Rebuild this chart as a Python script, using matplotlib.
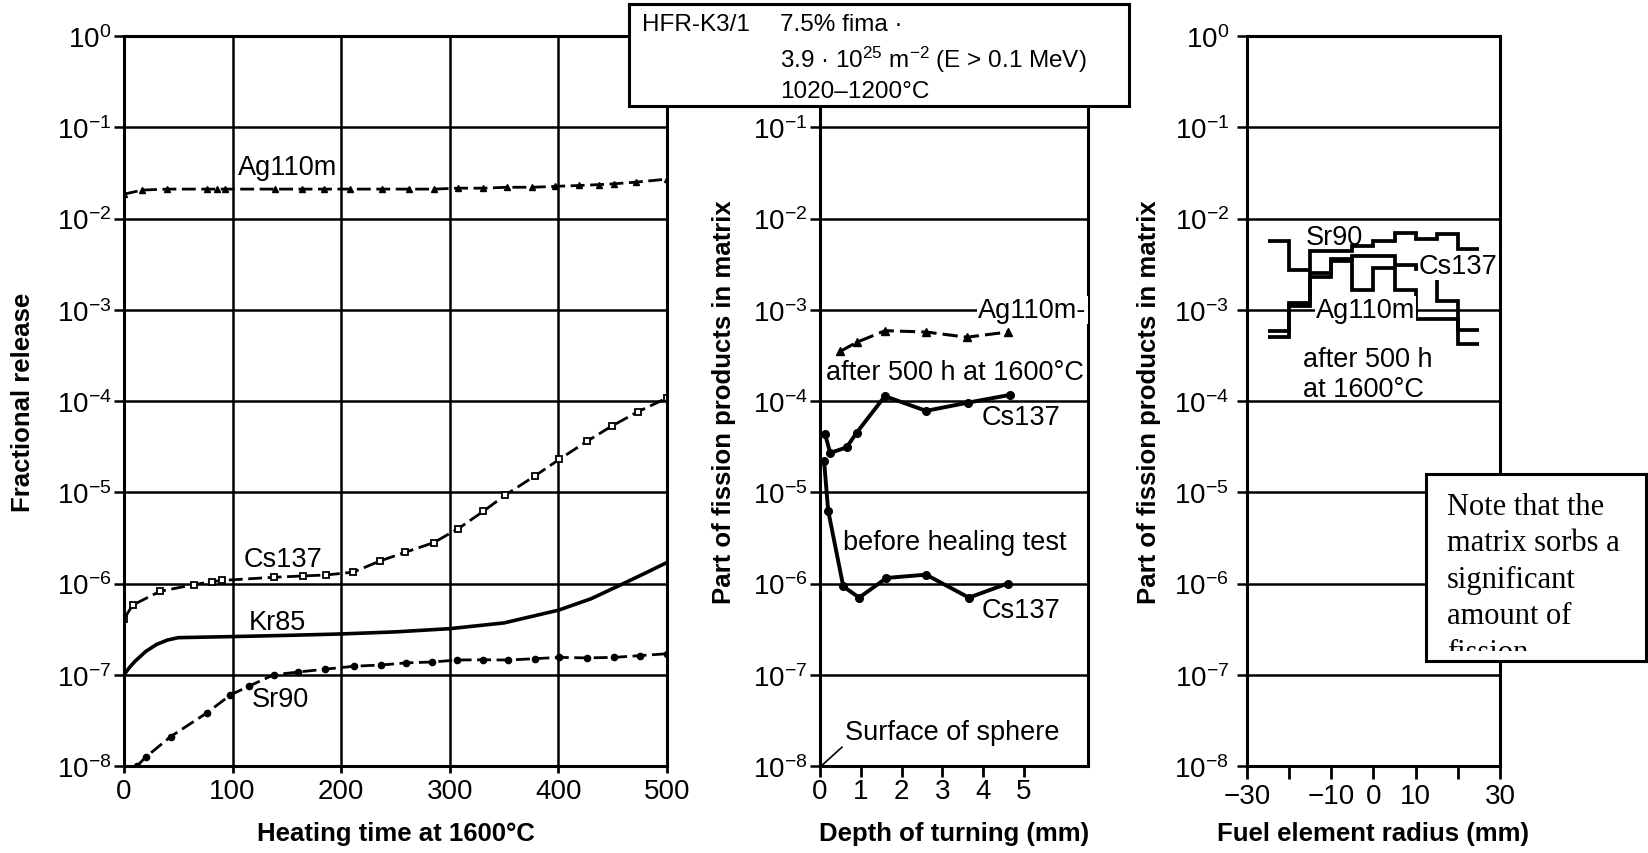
import matplotlib
matplotlib.use("Agg")
import matplotlib.pyplot as plt
from matplotlib.ticker import NullLocator
from matplotlib.transforms import Bbox, TransformedBbox

plt.rcParams["font.family"] = ["Liberation Sans", "DejaVu Sans"]
plt.rcParams["mathtext.fontset"] = "custom"
plt.rcParams["mathtext.rm"] = "Liberation Sans"
plt.rcParams["mathtext.it"] = "Liberation Sans:italic"
plt.rcParams["mathtext.bf"] = "Liberation Sans:bold"
plt.rcParams["mathtext.default"] = "regular"

W, H = 1649, 854
Y_TOP, Y_BOT = 37, 767          # pixel rows of 10^0 and 10^-8

decade_ticks = [1e-8, 1e-7, 1e-6, 1e-5, 1e-4, 1e-3, 1e-2, 1e-1, 1e0]

# ---- left panel: fractional release vs heating time at 1600 C ----------
ag_t = [0, 17, 40, 76, 86, 93, 139, 164, 184, 208, 238, 262, 285, 308, 331,
        353, 376, 397, 419, 437, 451, 471, 500]
ag_rel = [1.85e-2, 2.05e-2, 2.1e-2, 2.1e-2, 2.1e-2, 2.1e-2, 2.1e-2, 2.1e-2,
          2.1e-2, 2.1e-2, 2.1e-2, 2.1e-2, 2.1e-2, 2.15e-2, 2.15e-2, 2.2e-2,
          2.2e-2, 2.25e-2, 2.3e-2, 2.35e-2, 2.4e-2, 2.5e-2, 2.7e-2]
cs_t = [0, 8, 33, 64, 81, 90, 138, 165, 186, 211, 236, 259, 285, 308, 331,
        351, 378, 401, 426, 449, 473, 500]
cs_rel = [4.1e-7, 5.8e-7, 8.2e-7, 9.7e-7, 1.05e-6, 1.08e-6, 1.17e-6, 1.21e-6,
          1.24e-6, 1.33e-6, 1.77e-6, 2.2e-6, 2.8e-6, 4.0e-6, 6.2e-6, 9.3e-6,
          1.5e-5, 2.3e-5, 3.6e-5, 5.3e-5, 7.6e-5, 1.08e-4]
kr_t = [0, 5, 10, 20, 30, 40, 50, 100, 150, 200, 250, 300, 350, 400, 430,
        460, 480, 500]
kr_rel = [1.0e-7, 1.2e-7, 1.4e-7, 1.8e-7, 2.15e-7, 2.4e-7, 2.55e-7, 2.62e-7,
          2.7e-7, 2.8e-7, 2.95e-7, 3.2e-7, 3.7e-7, 5.1e-7, 6.8e-7, 1.0e-6,
          1.3e-6, 1.7e-6]
sr_t = [12, 20, 43, 76, 98, 115, 138, 160, 185, 212, 237, 260, 284, 307, 331,
        354, 378, 401, 426, 451, 475, 500]
sr_rel = [1.0e-8, 1.25e-8, 2.1e-8, 3.8e-8, 6.0e-8, 7.5e-8, 1.0e-7, 1.07e-7,
          1.15e-7, 1.24e-7, 1.28e-7, 1.35e-7, 1.38e-7, 1.45e-7, 1.46e-7,
          1.45e-7, 1.5e-7, 1.55e-7, 1.53e-7, 1.55e-7, 1.62e-7, 1.7e-7]
time_ticks = [0, 100, 200, 300, 400, 500]

# ---- middle panel: profile vs depth of turning -------------------------
ag_mid_d = [0.5, 0.9, 1.6, 2.6, 3.6, 4.6]
ag_mid = [3.5e-4, 4.4e-4, 5.9e-4, 5.7e-4, 5.0e-4, 5.7e-4]
cs_after_d = [0.12, 0.25, 0.65, 0.9, 1.59, 2.6, 3.63, 4.67]
cs_after = [4.4e-5, 2.7e-5, 3.1e-5, 4.5e-5, 1.13e-4, 7.8e-5, 9.6e-5, 1.17e-4]
cs_before_d = [0.1, 0.2, 0.57, 0.96, 1.63, 2.6, 3.65, 4.6]
cs_before = [2.2e-5, 6.3e-6, 9.3e-7, 7.0e-7, 1.15e-6, 1.25e-6, 7.0e-7, 1.0e-6]
depth_ticks = [0, 1, 2, 3, 4, 5]

# ---- right panel: radial profile after 500 h (5 mm bins) ---------------
r_edges = [-25, -20, -15, -10, -5, 0, 5, 10, 15, 20, 25]
sr_lvl = [5.6e-3, 2.75e-3, 4.4e-3, 4.4e-3, 5.0e-3, 5.6e-3, 6.9e-3, 5.9e-3,
          6.7e-3, 4.6e-3]
cs_lvl = [5.8e-4, 1.2e-3, 2.5e-3, 3.6e-3, 3.9e-3, 3.9e-3, 3.1e-3, 2.8e-3,
          1.25e-3, 6.0e-4]
ag_lvl = [5.0e-4, 1.1e-3, 2.3e-3, 3.4e-3, 1.65e-3, 2.9e-3, 1.65e-3, 8.0e-4,
          8.0e-4, 4.2e-4]
r_ticks = [-30, -20, -10, 0, 10, 20, 30]
r_tick_labels = ["\u221230", "", "\u221210", "0", "10", "", "30"]

note_lines = ["Note that the", "matrix sorbs a", "significant", "amount of",
              "fission"]

fig = plt.figure(figsize=(W / 100, H / 100), dpi=100)


def px_axes(x0, x1, y0, y1):
    return fig.add_axes([x0 / W, 1 - y1 / H, (x1 - x0) / W, (y1 - y0) / H])


def decades(ax, xlen, xpad, ypad):
    ax.set_yscale("log")
    ax.set_ylim(1e-8, 1)
    ax.set_yticks(decade_ticks)
    ax.yaxis.set_minor_locator(NullLocator())
    ax.grid(axis="y", color="k", lw=1.8)
    for s in ax.spines.values():
        s.set_linewidth(2.2)
    ax.tick_params(axis="y", length=7, width=1.8, pad=ypad, labelsize=20)
    ax.tick_params(axis="x", length=xlen, width=2.0, pad=xpad, labelsize=20)


LBL = dict(fontsize=18.5, fontweight="bold")
TXT = dict(fontsize=19.5, va="baseline")
XLAB_Y = -0.075

# ---- left ---------------------------------------------------------------
ax1 = px_axes(124, 667, Y_TOP, Y_BOT)
decades(ax1, 5, 4, 2)
dash = (0, (5, 2))
ax1.plot(ag_t, ag_rel, ls=dash, marker="^", ms=4.5, color="k", lw=2.0)
ax1.plot(cs_t, cs_rel, ls=dash, marker="s", ms=4, mfc="white", mew=1.3,
         color="k", lw=2.0)
ax1.plot(kr_t, kr_rel, "-", color="k", lw=2.6)
ax1.plot(sr_t, sr_rel, ls=dash, marker="o", ms=4.5, color="k", lw=2.0)
ax1.set_xlim(0, 500)
ax1.set_xticks(time_ticks)
ax1.grid(axis="x", color="k", lw=1.8)
ax1.text(105, 3.07e-2, "Ag110m", **TXT)
ax1.text(110, 1.55e-6, "Cs137", **TXT)
ax1.text(115, 3.2e-7, "Kr85", **TXT)
ax1.text(118, 4.5e-8, "Sr90", **TXT)
ax1.set_xlabel("Heating time at 1600°C", **LBL)
ax1.xaxis.set_label_coords(0.5, XLAB_Y)
ax1.set_ylabel("Fractional release", **LBL)
ax1.yaxis.set_label_coords((23 - 124) / 543, 0.5)
ax1.yaxis.label.set_va("center")

# ---- middle -------------------------------------------------------------
ax2 = px_axes(820, 1088, Y_TOP, Y_BOT)
decades(ax2, 8, 1, 2)
ax2.plot(ag_mid_d, ag_mid, ls=dash, marker="^", ms=5.5, color="k", lw=2.2)
ax2.plot(cs_after_d, cs_after, "-", marker="o", ms=5.5, color="k", lw=2.8)
ax2.plot(cs_before_d, cs_before, "-", marker="o", ms=5.5, color="k", lw=2.8)
ax2.set_xlim(0, 6.57)
ax2.set_xticks(depth_ticks)
ax2.text(3.87, 8.3e-4, "Ag110m-", zorder=4,
         bbox=dict(facecolor="white", edgecolor="none", pad=1), **TXT)
ax2.text(0.15, 1.74e-4, "after 500 h at 1600°C", **TXT)
ax2.text(3.97, 5.6e-5, "Cs137", **TXT)
ax2.text(0.57, 2.4e-6, "before healing test", **TXT)
ax2.text(3.97, 4.3e-7, "Cs137", **TXT)
ax2.annotate("Surface of sphere", xy=(0.03, 1.0e-8), xytext=(0.61, 2.0e-8),
             fontsize=19.5, va="baseline",
             arrowprops=dict(arrowstyle="-", lw=1.2, color="k",
                             shrinkA=0, shrinkB=0, relpos=(0, 0)))
ax2.set_xlabel("Depth of turning (mm)", **LBL)
ax2.xaxis.set_label_coords(0.5, XLAB_Y)
ax2.set_ylabel("Part of fission products in matrix", **LBL)
ax2.yaxis.set_label_coords((724 - 820) / 268, 0.5)
ax2.yaxis.label.set_va("center")

# ---- right --------------------------------------------------------------
ax3 = px_axes(1247, 1500, Y_TOP, Y_BOT)
decades(ax3, 9, 3, 6)
for lvl in (sr_lvl, cs_lvl, ag_lvl):
    ax3.stairs(lvl, r_edges, baseline=None, color="k", lw=2.7, zorder=3)
ax3.set_xlim(-30, 30)
ax3.set_xticks(r_ticks, r_tick_labels)
ax3.text(-16, 5.25e-3, "Sr90", zorder=4, **TXT)
ax3.text(10.8, 2.5e-3, "Cs137", zorder=4,
         bbox=dict(facecolor="white", edgecolor="none", pad=0.5), **TXT)
ax3.text(-13.7, 8.3e-4, "Ag110m", zorder=4,
         bbox=dict(facecolor="white", edgecolor="none", pad=0.5), **TXT)
ax3.text(-16.8, 2.4e-4, "after 500 h", **TXT)
ax3.text(-16.8, 1.13e-4, "at 1600°C", **TXT)
ax3.set_xlabel("Fuel element radius (mm)", **LBL)
ax3.xaxis.set_label_coords(0.5, XLAB_Y)
ax3.set_ylabel("Part of fission products in matrix", **LBL)
ax3.yaxis.set_label_coords((1149 - 1247) / 253, 0.5)
ax3.yaxis.label.set_va("center")

# ---- irradiation box (covers the top of the middle panel) --------------
bax = px_axes(629, 1129, 5, 107)
bax.set_xticks([])
bax.set_yticks([])
bax.set_zorder(5)
for s in bax.spines.values():
    s.set_linewidth(2.2)
bx = lambda px: (px - 629) / 500
by = lambda py: (107 - py) / 102
BOX = dict(fontsize=17.5, va="baseline")
bax.text(bx(642), by(31), "HFR-K3/1", **BOX)
bax.text(bx(780), by(31), "7.5% fima ·", **BOX)
bax.text(bx(780), by(68), "3.9 · 10$^{25}$ m$^{-2}$ (E > 0.1 MeV)", **BOX)
bax.text(bx(780), by(98), "1020\u20131200°C", **BOX)

# ---- note box, text cut off inside its lower edge ----------------------
nax = px_axes(1426, 1646, 475, 662)
nax.set_xticks([])
nax.set_yticks([])
nax.set_zorder(5)
for s in nax.spines.values():
    s.set_linewidth(2.2)
text_frame = TransformedBbox(Bbox([[0, (662 - 652) / 187], [1, 1]]),
                             nax.transAxes)
for i, line in enumerate(note_lines):
    t = nax.text((1447 - 1426) / 220, (662 - (515 + 36.5 * i)) / 187, line,
                 family="Liberation Serif", fontsize=22, va="baseline",
                 clip_on=True)
    t.set_clip_path(None)
    t.set_clip_box(text_frame)

fig.savefig("out.png", dpi=100)
